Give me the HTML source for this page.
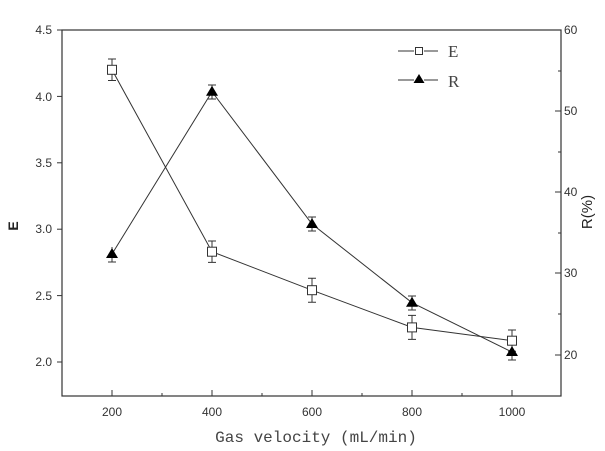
<!DOCTYPE html>
<html><head><style>body{margin:0;background:#fff}svg{display:block}</style></head><body>
<svg width="605" height="451" xmlns="http://www.w3.org/2000/svg" font-family="Liberation Sans, sans-serif">
<rect width="605" height="451" fill="#fff"/>
<g stroke="#333" stroke-width="1.2" fill="none">
<rect x="62" y="30" width="499" height="366"/>
</g>
<g stroke="#333" stroke-width="1">
<!-- left ticks -->
<line x1="62" y1="30" x2="57" y2="30"/><line x1="62" y1="96.4" x2="57" y2="96.4"/><line x1="62" y1="162.8" x2="57" y2="162.8"/><line x1="62" y1="229.2" x2="57" y2="229.2"/><line x1="62" y1="295.6" x2="57" y2="295.6"/><line x1="62" y1="362" x2="57" y2="362"/>
<!-- right ticks -->
<line x1="561" y1="30" x2="555" y2="30"/><line x1="561" y1="111" x2="555" y2="111"/><line x1="561" y1="192" x2="555" y2="192"/><line x1="561" y1="273" x2="555" y2="273"/><line x1="561" y1="355" x2="555" y2="355"/>
<line x1="561" y1="71" x2="558" y2="71"/><line x1="561" y1="152" x2="558" y2="152"/><line x1="561" y1="233" x2="558" y2="233"/><line x1="561" y1="314" x2="558" y2="314"/>
<!-- bottom ticks -->
<line x1="112" y1="396" x2="112" y2="390"/><line x1="212" y1="396" x2="212" y2="390"/><line x1="312" y1="396" x2="312" y2="390"/><line x1="412" y1="396" x2="412" y2="390"/><line x1="512" y1="396" x2="512" y2="390"/>
<line x1="162" y1="396" x2="162" y2="393"/><line x1="262" y1="396" x2="262" y2="393"/><line x1="362" y1="396" x2="362" y2="393"/><line x1="462" y1="396" x2="462" y2="393"/>
</g>
<g font-size="12" fill="#333" text-anchor="end">
<text x="52" y="34">4.5</text><text x="52" y="101">4.0</text><text x="52" y="167">3.5</text><text x="52" y="233">3.0</text><text x="52" y="300">2.5</text><text x="52" y="366">2.0</text>
</g>
<g font-size="12" fill="#333" text-anchor="start">
<text x="564" y="34">60</text><text x="564" y="115">50</text><text x="564" y="196">40</text><text x="564" y="277">30</text><text x="564" y="359">20</text>
</g>
<g font-size="12" fill="#333" text-anchor="middle">
<text x="112" y="416">200</text><text x="212" y="416">400</text><text x="312" y="416">600</text><text x="412" y="416">800</text><text x="512" y="416">1000</text>
</g>
<text x="0" y="0" font-size="14" font-weight="bold" fill="#222" transform="translate(18,226) rotate(-90)" text-anchor="middle">E</text>
<text x="0" y="0" font-size="15" fill="#222" transform="translate(592,212) rotate(-90)" text-anchor="middle">R(%)</text>
<text x="316" y="442" font-family="Liberation Mono, monospace" font-size="16" fill="#444" text-anchor="middle">Gas velocity (mL/min)</text>
<!-- E series -->
<g stroke="#333" stroke-width="1" fill="none">
<polyline points="112,69.8 212,251.7 312,290.2 412,327.4 512,340.7"/>
<path d="M112,59 V80.5 M108,59 H116 M108,80.5 H116"/>
<path d="M212,241 V262.4 M208,241 H216 M208,262.4 H216"/>
<path d="M312,278.3 V302.2 M308,278.3 H316 M308,302.2 H316"/>
<path d="M412,315.4 V339.4 M408,315.4 H416 M408,339.4 H416"/>
<path d="M512,330 V351.3 M508,330 H516 M508,351.3 H516"/>
<!-- R series -->
<polyline points="112,254 212,91.7 312,224 412,302.7 512,352"/>
<path d="M112,247 V262 M108,262 H116"/>
<path d="M212,85 V99 M208,85 H216 M208,99 H216"/>
<path d="M312,217 V231 M308,217 H316 M308,231 H316"/>
<path d="M412,296 V310 M408,296 H416 M408,310 H416"/>
<path d="M512,345 V360 M508,360 H516"/>
</g>
<g fill="#fff" stroke="#333" stroke-width="1">
<rect x="107.5" y="65.3" width="9" height="9"/><rect x="207.5" y="247.2" width="9" height="9"/><rect x="307.5" y="285.7" width="9" height="9"/><rect x="407.5" y="322.9" width="9" height="9"/><rect x="507.5" y="336.2" width="9" height="9"/>
</g>
<g fill="#000">
<path d="M112,248 l6,10 h-12z"/><path d="M212,85.7 l6,10 h-12z"/><path d="M312,218 l6,10 h-12z"/><path d="M412,296.7 l6,10 h-12z"/><path d="M512,346 l6,10 h-12z"/>
</g>
<!-- legend -->
<g stroke="#333" stroke-width="1">
<line x1="398" y1="51" x2="414" y2="51"/><line x1="424" y1="51" x2="438" y2="51"/>
<line x1="398" y1="80" x2="414" y2="80"/><line x1="424" y1="80" x2="438" y2="80"/>
</g>
<rect x="415.5" y="47.5" width="7" height="7" fill="#fff" stroke="#333"/>
<path d="M419,74 l5.5,9 h-11z" fill="#000"/>
<text x="448" y="57" font-family="Liberation Serif, serif" font-size="17" fill="#444">E</text>
<text x="448" y="87" font-family="Liberation Serif, serif" font-size="17" fill="#444">R</text>
</svg>
</body></html>
